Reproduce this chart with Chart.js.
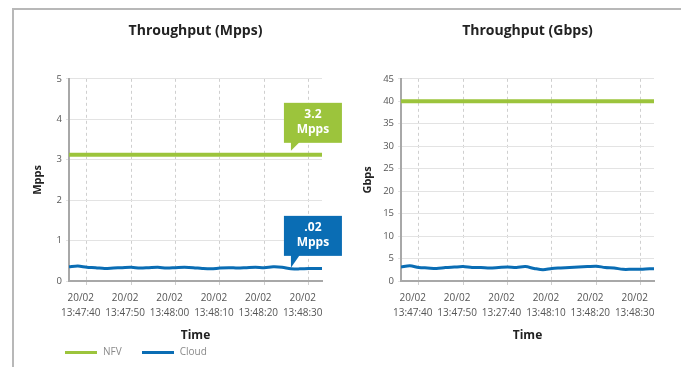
<!DOCTYPE html>
<html>
<head>
<meta charset="utf-8">
<title>Throughput</title>
<script src="https://cdn.jsdelivr.net/npm/chart.js@4.4.1/dist/chart.umd.min.js"></script>
<style>
    body { margin: 0; background: #fff; width: 681px; height: 367px; overflow: hidden; position: relative; font-family: 'Open Sans', sans-serif; }
    #frame { position: absolute; left: 12px; top: 8px; right: 0; bottom: 0; border-top: 2px solid #b8b8b8; border-left: 2px solid #b8b8b8; }
    canvas { position: absolute; top: 10px; }
    #chartMpps { left: 14px; }
    #chartGbps { left: 345px; }
    #legend { position: absolute; left: 65px; top: 344px; font-size: 10px; color: #8a8a8a; line-height: 14px; }
    .item { display: inline-block; margin-right: 20px; }
    .swatch { display: inline-block; width: 32px; height: 3px; vertical-align: middle; margin-right: 6px; }
</style>
</head>
<body>
<div id="frame"></div>
<canvas id="chartMpps" width="331" height="335"></canvas>
<canvas id="chartGbps" width="336" height="335"></canvas>
<div id="legend"></div>

<script>
// seconds after 13:47:00 on 20/02
const times = [36, 38, 40, 42, 44, 46, 48, 50, 52, 54, 56, 58, 60, 62, 64,
               66, 68, 70, 72, 74, 76, 78, 80, 82, 84, 86, 88, 90, 92, 93];

const seriesNames = ['NFV', 'Cloud'];
const seriesColors = ['#9cc43c', '#0a6db4'];

const nfvMpps = [3.12, 3.12, 3.12, 3.12, 3.12, 3.12, 3.12, 3.12, 3.12, 3.12, 3.12, 3.12, 3.12, 3.12, 3.12,
                 3.12, 3.12, 3.12, 3.12, 3.12, 3.12, 3.12, 3.12, 3.12, 3.12, 3.12, 3.12, 3.12, 3.12, 3.12];
const cloudMpps = [0.35, 0.37, 0.34, 0.33, 0.31, 0.32, 0.33, 0.34, 0.32, 0.33, 0.34, 0.32, 0.33, 0.34, 0.33,
                   0.31, 0.30, 0.32, 0.33, 0.32, 0.33, 0.34, 0.33, 0.35, 0.34, 0.30, 0.30, 0.31, 0.31, 0.31];

const nfvGbps = [40, 40, 40, 40, 40, 40, 40, 40, 40, 40, 40, 40, 40, 40, 40,
                 40, 40, 40, 40, 40, 40, 40, 40, 40, 40, 40, 40, 40, 40, 40];
const cloudGbps = [3.1, 3.4, 3.0, 2.9, 2.8, 3.0, 3.1, 3.2, 3.0, 3.0, 2.9, 3.0, 3.1, 3.0, 3.2,
                   2.8, 2.5, 2.8, 2.9, 3.0, 3.1, 3.2, 3.3, 3.0, 2.9, 2.6, 2.6, 2.6, 2.7, 2.7];

// x axis ticks
const tickTimes = [40, 50, 60, 70, 80, 90];
const tickDates = ['20/02', '20/02', '20/02', '20/02', '20/02', '20/02'];
const mppsTickTimes = ['13:47:40', '13:47:50', '13:48:00', '13:48:10', '13:48:20', '13:48:30'];
const gbpsTickTimes = ['13:47:40', '13:47:50', '13:27:40', '13:48:10', '13:48:20', '13:48:30'];

// callout labels on the Mpps chart
const mppsCallouts = [
    { dataset: 0, time: 86, lines: ['3.2', 'Mpps'], gap: 4, stem: 8 },
    { dataset: 1, time: 86, lines: ['.02', 'Mpps'], gap: 1, stem: 12 }
];

Chart.defaults.font.family = "'Open Sans', sans-serif";
Chart.defaults.devicePixelRatio = 1;

// centre the chart title over the plot area instead of the whole canvas
const titleOverPlot = {
    id: 'titleOverPlot',
    afterLayout(chart) {
        const t = chart.titleBlock;
        if (t) {
            t.left = chart.chartArea.left;
            t.right = chart.chartArea.right;
        }
    }
};

const calloutPlugin = {
    id: 'callouts',
    afterDatasetsDraw(chart, args, opts) {
        const items = opts.items || [];
        const ctx = chart.ctx;
        const xs = chart.scales.x, ys = chart.scales.y;
        items.forEach(c => {
            const ds = chart.data.datasets[c.dataset];
            const i = times.indexOf(c.time);
            const tx = xs.getPixelForValue(c.time);
            const ty = ys.getPixelForValue(ds.data[i].y) - c.gap;
            const w = 58, h = 40;
            const left = tx - 7, bottom = ty - c.stem;
            ctx.save();
            ctx.fillStyle = ds.borderColor;
            ctx.fillRect(left, bottom - h, w, h);
            ctx.beginPath();
            ctx.moveTo(tx, bottom - 1);
            ctx.lineTo(tx + 9, bottom - 1);
            ctx.lineTo(tx, ty);
            ctx.closePath();
            ctx.fill();
            ctx.fillStyle = '#fff';
            ctx.font = "bold 12px 'Open Sans', sans-serif";
            ctx.textAlign = 'center';
            ctx.textBaseline = 'middle';
            ctx.fillText(c.lines[0], left + w / 2, bottom - h + 12);
            ctx.fillText(c.lines[1], left + w / 2, bottom - h + 27);
            ctx.restore();
        });
    }
};

function makeChart(id, cfg) {
    const series = [cfg.nfv, cfg.cloud];
    return new Chart(document.getElementById(id), {
        type: 'line',
        data: {
            datasets: series.map((vals, s) => ({
                label: seriesNames[s],
                data: times.map((t, i) => ({ x: t, y: vals[i] })),
                borderColor: seriesColors[s],
                borderWidth: s === 0 ? 4 : 3,
                pointRadius: 0,
                tension: 0.3,
                fill: false
            }))
        },
        options: {
            responsive: false,
            animation: false,
            layout: { padding: { left: cfg.padLeft, right: cfg.padRight, top: 0, bottom: 0 } },
            plugins: {
                legend: { display: false },
                tooltip: { enabled: false },
                title: {
                    display: true,
                    text: cfg.title,
                    color: '#222',
                    font: { size: 14, weight: 'bold' },
                    padding: { top: 13, bottom: 39 }
                },
                callouts: { items: cfg.callouts || [] }
            },
            scales: {
                x: {
                    type: 'linear',
                    min: 36,
                    max: 93,
                    afterBuildTicks: scale => { scale.ticks = tickTimes.map(v => ({ value: v })); },
                    afterFit: scale => { scale.height = 64; },
                    ticks: {
                        autoSkip: false,
                        maxRotation: 0,
                        labelOffset: -6,
                        padding: 6,
                        color: '#555',
                        font: { size: 10, lineHeight: '15px' },
                        callback: (v, i) => [tickDates[i], cfg.tickTimes[i]]
                    },
                    grid: { color: '#cfcfcf', tickLength: 4 },
                    border: { color: '#a8a8a8', width: 2, dash: [3, 3] },
                    title: {
                        display: true,
                        text: 'Time',
                        color: '#222',
                        font: { size: 12, weight: 'bold' },
                        padding: { top: 0, bottom: 2 }
                    }
                },
                y: {
                    min: 0,
                    max: cfg.max,
                    afterFit: scale => { scale.width = cfg.yWidth; },
                    ticks: { stepSize: cfg.step, padding: 4, color: '#555', font: { size: 9.5 } },
                    grid: { color: '#e3e3e3', tickLength: 3 },
                    border: { color: '#a8a8a8', width: 2 },
                    title: {
                        display: true,
                        text: cfg.yTitle,
                        color: '#222',
                        font: { size: 11, weight: 'bold' },
                        padding: { top: 4, bottom: 4 }
                    }
                }
            }
        },
        plugins: [titleOverPlot, calloutPlugin]
    });
}

makeChart('chartMpps', {
    title: 'Throughput (Mpps)', yTitle: 'Mpps', max: 5, step: 1,
    nfv: nfvMpps, cloud: cloudMpps, tickTimes: mppsTickTimes,
    padLeft: 13, padRight: 23, yWidth: 42, callouts: mppsCallouts
});

makeChart('chartGbps', {
    title: 'Throughput (Gbps)', yTitle: 'Gbps', max: 45, step: 5,
    nfv: nfvGbps, cloud: cloudGbps, tickTimes: gbpsTickTimes,
    padLeft: 12, padRight: 27, yWidth: 44
});

// legend under the first chart
const legend = document.getElementById('legend');
seriesNames.forEach((name, s) => {
    const item = document.createElement('span');
    item.className = 'item';
    item.innerHTML = `<span class="swatch" style="background:${seriesColors[s]}"></span>${name}`;
    legend.appendChild(item);
});
</script>
</body>
</html>
